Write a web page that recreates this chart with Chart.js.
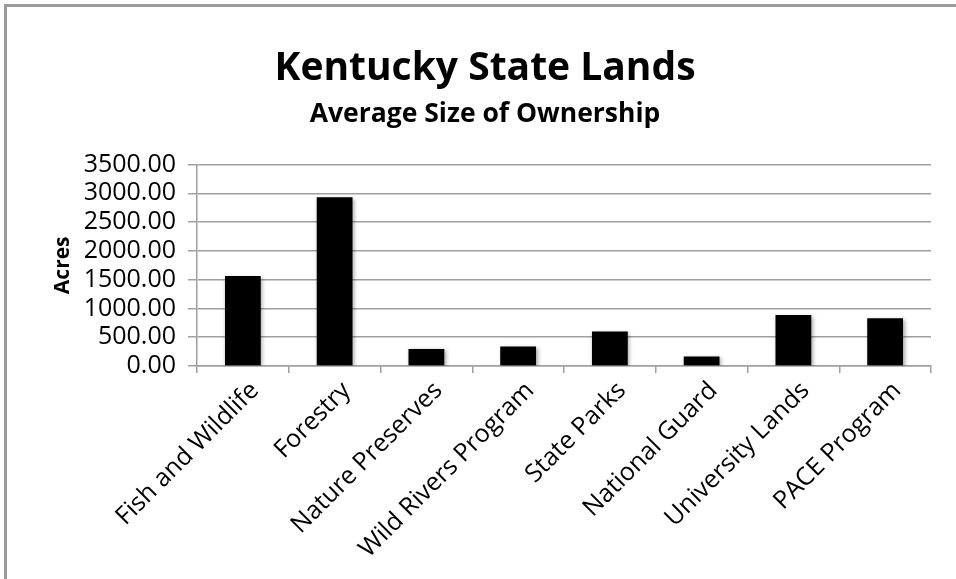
<!DOCTYPE html>
<html>
<head>
<meta charset="utf-8">
<title>Kentucky State Lands</title>
<script src="https://cdn.jsdelivr.net/npm/chart.js@4.4.1/dist/chart.umd.min.js"></script>
<style>
  html, body { margin: 0; padding: 0; background: #fff; }
  #wrap { width: 956px; height: 579px; }
</style>
</head>
<body>
<div id="wrap"><canvas id="landsChart" width="956" height="579"></canvas></div>
<script>
// Average acreage per holding, by managing program
const agencies = ['Fish and Wildlife', 'Forestry', 'Nature Preserves', 'Wild Rivers Program',
  'State Parks', 'National Guard', 'University Lands', 'PACE Program'];
const avgAcres = [1563, 2932, 297, 339, 601, 164, 886, 829];
const acreTicks = [0, 500, 1000, 1500, 2000, 2500, 3000, 3500];

const FONT = '"Open Sans", "DejaVu Sans", sans-serif';
const GRID = '#a0a0a0';

// gray frame along the top and left edge of the chart panel
const framePlugin = {
  id: 'frame',
  beforeDraw(chart) {
    const ctx = chart.ctx;
    ctx.save();
    ctx.fillStyle = '#fff';
    ctx.fillRect(0, 0, chart.width, chart.height);
    ctx.fillStyle = '#9b9b9b';
    ctx.fillRect(4, 4, chart.width - 4, 3);
    ctx.fillRect(4, 4, 3, chart.height - 4);
    ctx.restore();
  }
};

// soft drop shadow under the bars
const barShadow = {
  id: 'barShadow',
  beforeDatasetDraw(chart) {
    const ctx = chart.ctx;
    ctx.save();
    ctx.shadowColor = 'rgba(0,0,0,0.35)';
    ctx.shadowBlur = 4;
    ctx.shadowOffsetX = 1.5;
    ctx.shadowOffsetY = 1.5;
  },
  afterDatasetDraw(chart) { chart.ctx.restore(); }
};

new Chart(document.getElementById('landsChart'), {
  type: 'bar',
  data: {
    labels: agencies,
    datasets: [{
      label: 'Acres',
      data: avgAcres,
      backgroundColor: '#000',
      borderWidth: 0,
      categoryPercentage: 1,
      barPercentage: 0.39
    }]
  },
  options: {
    responsive: false,
    animation: false,
    layout: { padding: { top: 0, right: 25, bottom: 0, left: 39 } },
    plugins: {
      legend: { display: false },
      tooltip: { enabled: false },
      title: {
        display: true,
        text: 'Kentucky State Lands',
        color: '#000',
        font: { family: FONT, size: 39, weight: 'bold', lineHeight: 1.2 },
        padding: { top: 45, bottom: 0 }
      },
      subtitle: {
        display: true,
        text: 'Average Size of Ownership',
        color: '#000',
        font: { family: FONT, size: 26.5, weight: 'bold', lineHeight: 1.2 },
        padding: { top: 7, bottom: 34 }
      }
    },
    scales: {
      x: {
        grid: { offset: true, drawOnChartArea: false, color: GRID, lineWidth: 1.5, tickLength: 7 },
        border: { color: GRID, width: 1.5 },
        ticks: {
          color: '#000',
          font: { family: FONT, size: 25 },
          autoSkip: false,
          minRotation: 45,
          maxRotation: 45,
          labelOffset: 12,
          padding: 3
        },
        afterFit(scale) { scale.height = 213; }
      },
      y: {
        min: 0,
        max: 3500,
        afterBuildTicks(scale) { scale.ticks = acreTicks.map(v => ({ value: v })); },
        grid: { color: GRID, lineWidth: 1.5, tickLength: 9 },
        border: { color: GRID, width: 1.5 },
        ticks: {
          color: '#000',
          font: { family: FONT, size: 25 },
          autoSkip: false,
          padding: 12,
          callback: v => Number(v).toFixed(2)
        },
        title: {
          display: true,
          text: 'Acres',
          color: '#000',
          font: { family: FONT, size: 21, weight: 'bold', lineHeight: 1.2 },
          padding: { top: 11, bottom: 0 }
        },
        afterFit(scale) { scale.width = 158; }
      }
    }
  },
  plugins: [framePlugin, barShadow]
});
</script>
</body>
</html>
